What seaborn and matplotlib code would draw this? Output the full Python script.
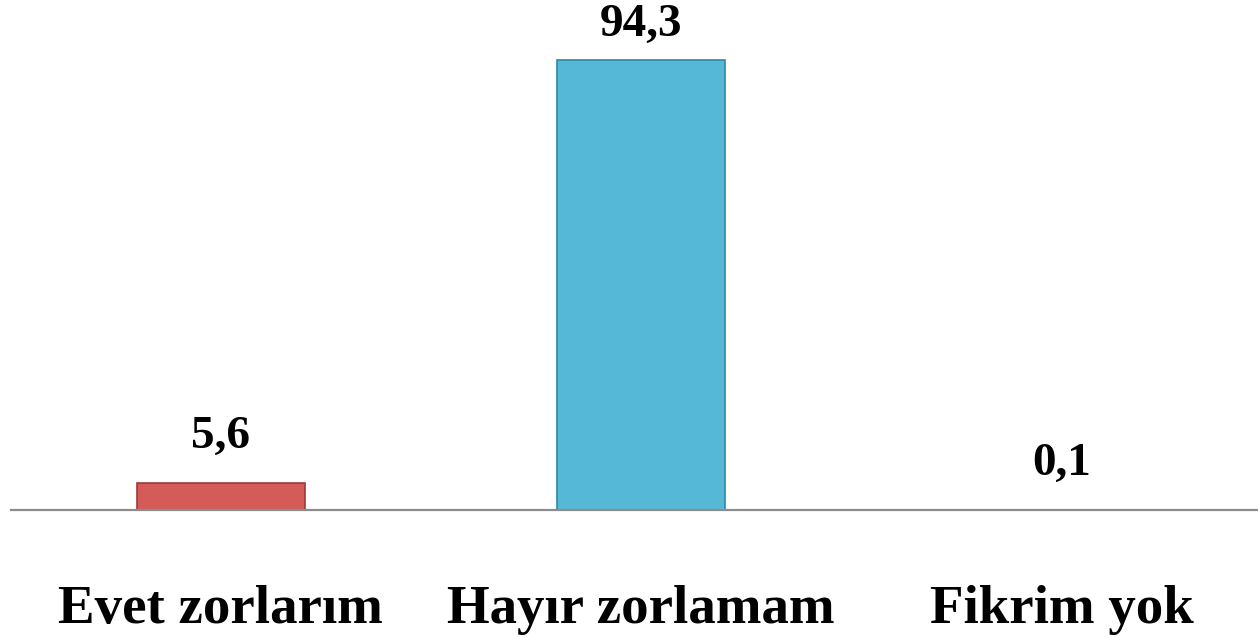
import numpy as np
import pandas as pd
import matplotlib
matplotlib.use("Agg")
import matplotlib.pyplot as plt
import seaborn as sns

categories = ["Evet zorlarım", "Hayır zorlamam", "Fikrim yok"]
values = [5.6, 94.3, 0.1]
labels = ["5,6", "94,3", "0,1"]
colors = ["#D45B58", "#55B8D6", "#9BBB59"]
edges = ["#9E3A37", "#2E8AA6", "#7A9444"]

df = pd.DataFrame({"cat": categories, "val": values})

sns.set_style("white")
plt.rcParams["font.family"] = ["Liberation Serif", "DejaVu Serif"]

fig = plt.figure(figsize=(12.58, 6.37), dpi=100)
ax = fig.add_axes([10.5 / 1258, 127 / 637, 1261.5 / 1258, 510 / 637])

sns.barplot(data=df, x="cat", y="val", hue="cat", palette=colors, width=0.40,
            legend=False, ax=ax, saturation=1)

for bar, ec in zip(ax.patches, edges):
    bar.set_edgecolor(ec)
    bar.set_linewidth(1.2)

ymax = 106.9
for bar, lab in zip(ax.patches, labels):
    h = bar.get_height()
    # the tallest label sits closer to its bar so it stays inside the figure
    off = 18 if h < 0.8 * ymax else 10
    ax.annotate(lab, (bar.get_x() + bar.get_width() / 2, h),
                xytext=(0, off), textcoords="offset points", ha="center", va="bottom",
                fontsize=34, fontweight="bold", color="black")

ax.set_xlim(-0.5, 2.5)
ax.set_ylim(0, ymax)
ax.set_xlabel("")
ax.set_ylabel("")
ax.set_yticks([])
ax.tick_params(axis="x", length=0, pad=54, labelsize=39.5, labelcolor="black")
for t in ax.get_xticklabels():
    t.set_fontweight("bold")

sns.despine(ax=ax, left=True, top=True, right=True)
ax.spines["bottom"].set_color("#8C8C8C")
ax.spines["bottom"].set_linewidth(1.6)

fig.savefig("out.png", dpi=100)
